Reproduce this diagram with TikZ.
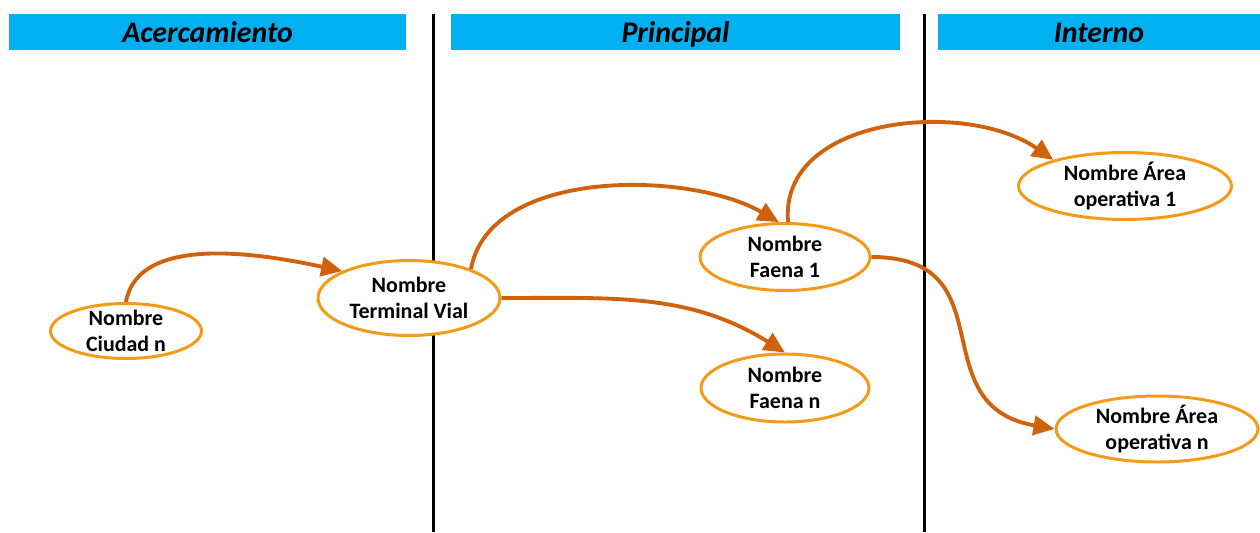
\documentclass[tikz,border=0pt]{standalone}
\usepackage{fontspec}
\setmainfont{Carlito}
\usetikzlibrary{shapes.geometric,arrows.meta}
\definecolor{barblue}{HTML}{00B0F0}
\definecolor{ovalline}{HTML}{F39A17}
\definecolor{flecha}{HTML}{D0620E}
\begin{document}
\begin{tikzpicture}[x=0.02cm,y=-0.02cm,
        zona/.style={fill=barblue,minimum height=0.72cm,inner sep=0pt,text height=13.4pt,text depth=2pt,font=\bfseries\itshape\fontsize{17}{19}\selectfont},
        lugar/.style={ellipse,draw=ovalline,line width=1.7pt,fill=white,align=center,inner xsep=0pt,inner ysep=-5pt,font=\bfseries\fontsize{12.5}{15}\selectfont},
        ruta/.style={color=flecha,line width=2.2pt,-{Triangle[length=12pt,width=11pt]}}]
            \useasboundingbox (0,0) rectangle (1260,532);

            \begin{scope}[every node/.style={zona}]
                \node (z1)[minimum width=7.94cm] at (207.5,32) {Acercamiento};
                \node (z2)[minimum width=8.98cm] at (675.5,32) {Principal};
                \node (z3)[minimum width=6.44cm] at (1099,32) {Interno};
            \end{scope}

            \draw [line width=1.7pt] (433,14) -- (433,532);
            \draw [line width=1.7pt] (924,14) -- (924,532);

            \begin{scope}[every node/.style={lugar}]
                \node (c)[minimum width=3.02cm,minimum height=1.1cm] at (126,331) {Nombre\\Ciudad n};
                \node (t)[minimum width=3.64cm,minimum height=1.5cm] at (409,298) {Nombre\\Terminal Vial};
                \node (f1)[minimum width=3.4cm,minimum height=1.34cm] at (785,257) {Nombre\\Faena 1};
                \node (fn)[minimum width=3.36cm,minimum height=1.36cm] at (785,388) {Nombre\\Faena n};
                \node (a1)[minimum width=4.26cm,minimum height=1.34cm] at (1125,186) {Nombre Área\\operativa 1};
                \node (an)[minimum width=4.04cm,minimum height=1.32cm] at (1157,429) {Nombre Área\\operativa n};
            \end{scope}

            \begin{scope}
                \path (c.north) edge[ruta,out=80,in=168,looseness=0.85] (t.158);
                \path (t.25) edge[ruta,out=80,in=150,looseness=0.85] (f1.100);
                \path (t.east) edge[ruta,out=0,in=148] (fn.north);
                \path (f1.85) edge[ruta,out=95,in=145] (a1.160);
                \path (f1.east) edge[ruta,out=0,in=170,looseness=1.4] (an.west);
            \end{scope}
            \end{tikzpicture}
\end{document}
